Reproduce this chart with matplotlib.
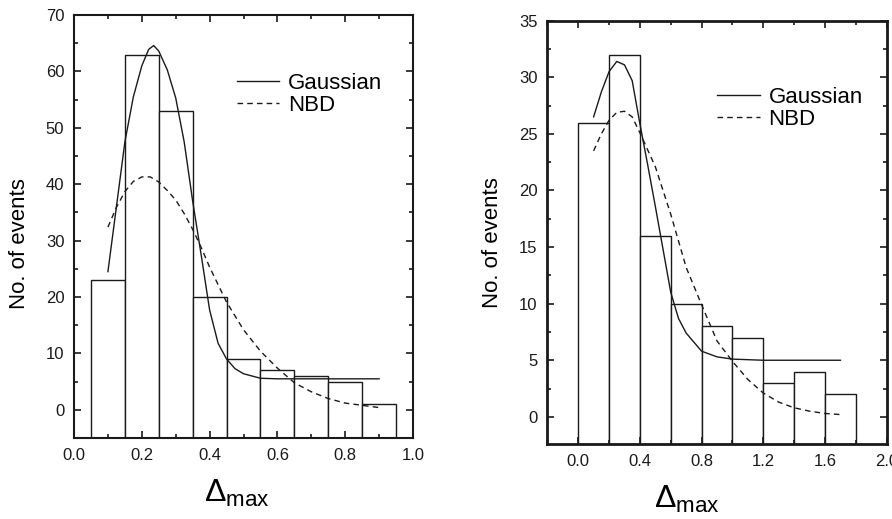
import matplotlib
matplotlib.use("Agg")
import matplotlib.pyplot as plt
import numpy as np
from matplotlib.ticker import MultipleLocator

plt.rcParams['font.family'] = ['Liberation Sans', 'DejaVu Sans']
plt.rcParams['mathtext.fontset'] = 'custom'
plt.rcParams['mathtext.rm'] = 'Liberation Sans'
plt.rcParams['mathtext.it'] = 'Liberation Sans:italic'

# ---- left panel data ----
left_edges = [0.05, 0.15, 0.25, 0.35, 0.45, 0.55, 0.65, 0.75, 0.85]
left_counts = [23, 63, 53, 20, 9, 7, 6, 5, 1]

left_gauss_x = [0.10, 0.125, 0.15, 0.175, 0.20, 0.22, 0.235, 0.25, 0.275, 0.30,
                0.325, 0.35, 0.375, 0.40, 0.425, 0.45, 0.475, 0.50, 0.55, 0.60,
                0.70, 0.80, 0.90]
left_gauss_y = [24.5, 36, 47.5, 55.5, 61, 63.9, 64.6, 63.6, 60.3, 55.3,
                47.5, 37, 27.5, 17.7, 11.8, 9.0, 7.3, 6.4, 5.6, 5.5,
                5.5, 5.5, 5.5]

left_nbd_x = [0.10, 0.125, 0.15, 0.175, 0.20, 0.225, 0.25, 0.275, 0.30, 0.325,
              0.35, 0.375, 0.40, 0.45, 0.50, 0.55, 0.60, 0.65, 0.70, 0.75,
              0.80, 0.85, 0.90]
left_nbd_y = [32.4, 35.9, 38.7, 40.5, 41.3, 41.3, 40.4, 38.9, 37.2, 34.8,
              32.0, 28.8, 25.3, 19.1, 14.2, 10.4, 7.4, 4.8, 3.2, 2.0,
              1.2, 0.8, 0.4]

# ---- right panel data ----
right_edges = [0.0, 0.2, 0.4, 0.6, 0.8, 1.0, 1.2, 1.4, 1.6]
right_counts = [26, 32, 16, 10, 8, 7, 3, 4, 2]

right_gauss_x = [0.10, 0.15, 0.20, 0.25, 0.30, 0.35, 0.40, 0.45, 0.50, 0.55,
                 0.60, 0.65, 0.70, 0.80, 0.90, 1.00, 1.20, 1.40, 1.70]
right_gauss_y = [26.5, 28.7, 30.5, 31.4, 31.1, 29.7, 25.9, 22.3, 18.6, 14.8,
                 11.0, 8.7, 7.4, 5.8, 5.3, 5.1, 5.0, 5.0, 5.0]

right_nbd_x = [0.10, 0.15, 0.20, 0.25, 0.30, 0.35, 0.40, 0.50, 0.60, 0.70,
               0.80, 0.90, 1.00, 1.10, 1.20, 1.30, 1.40, 1.50, 1.60, 1.70]
right_nbd_y = [23.5, 25.0, 26.2, 26.9, 27.0, 26.5, 25.1, 22.1, 17.9, 13.2,
               9.9, 6.7, 4.9, 3.3, 2.1, 1.3, 0.8, 0.5, 0.3, 0.2]

ink = '#1a1a1a'

fig = plt.figure(figsize=(8.92, 5.19), dpi=100)
ax1 = fig.add_axes([0.083, 0.156, 0.380, 0.815])
ax2 = fig.add_axes([0.6136, 0.1445, 0.3805, 0.8156])


def draw(ax, edges, counts, width, gx, gy, nx, ny, ylim, xlim, spine_lw):
    base = ylim[0]
    ax.bar(edges, np.array(counts) - base, width=width, bottom=base, align='edge',
           facecolor='white', edgecolor=ink, linewidth=1.0)
    ax.plot(gx, gy, color=ink, linewidth=1.0, label='Gaussian')
    ax.plot(nx, ny, color=ink, linewidth=1.0, linestyle=(0, (4, 3)), label='NBD')
    ax.set_xlim(*xlim)
    ax.set_ylim(*ylim)
    for s in ax.spines.values():
        s.set_linewidth(spine_lw)
        s.set_color(ink)
    ax.tick_params(which='both', direction='in', top=True, right=True,
                   width=1.2, labelsize=12, colors=ink, pad=7)
    ax.tick_params(which='major', length=5)
    ax.tick_params(which='minor', length=3)
    ax.set_ylabel('No. of events', fontsize=16)
    ax.set_xlabel(r'$\Delta_{\rm max}$', fontsize=23)
    leg = ax.legend(loc='upper left', frameon=False, fontsize=16,
                    handlelength=1.9, handletextpad=0.4, labelspacing=0.05,
                    borderaxespad=0)
    return leg


draw(ax1, left_edges, left_counts, 0.1, left_gauss_x, left_gauss_y,
     left_nbd_x, left_nbd_y, (-5, 70), (0.0, 1.0), 1.5)
ax1.xaxis.set_major_locator(MultipleLocator(0.2))
ax1.xaxis.set_minor_locator(MultipleLocator(0.1))
ax1.yaxis.set_major_locator(MultipleLocator(10))
ax1.yaxis.set_minor_locator(MultipleLocator(5))
ax1.xaxis.set_major_formatter(lambda v, p: f'{v:.1f}')
ax1.legend_.set_bbox_to_anchor((0.455, 0.885))
ax1.yaxis.set_label_coords(-0.13, 0.46)
ax1.xaxis.set_label_coords(0.48, -0.095)

draw(ax2, right_edges, right_counts, 0.2, right_gauss_x, right_gauss_y,
     right_nbd_x, right_nbd_y, (-2.4, 35), (-0.2, 2.0), 2.0)
ax2.xaxis.set_major_locator(MultipleLocator(0.4))
ax2.xaxis.set_minor_locator(MultipleLocator(0.2))
ax2.yaxis.set_major_locator(MultipleLocator(5))
ax2.yaxis.set_minor_locator(MultipleLocator(2.5))
ax2.xaxis.set_major_formatter(lambda v, p: f'{v:.1f}')
ax2.legend_.set_bbox_to_anchor((0.475, 0.865))
ax2.yaxis.set_label_coords(-0.13, 0.475)
ax2.xaxis.set_label_coords(0.41, -0.095)

fig.savefig('out.png', dpi=100)
